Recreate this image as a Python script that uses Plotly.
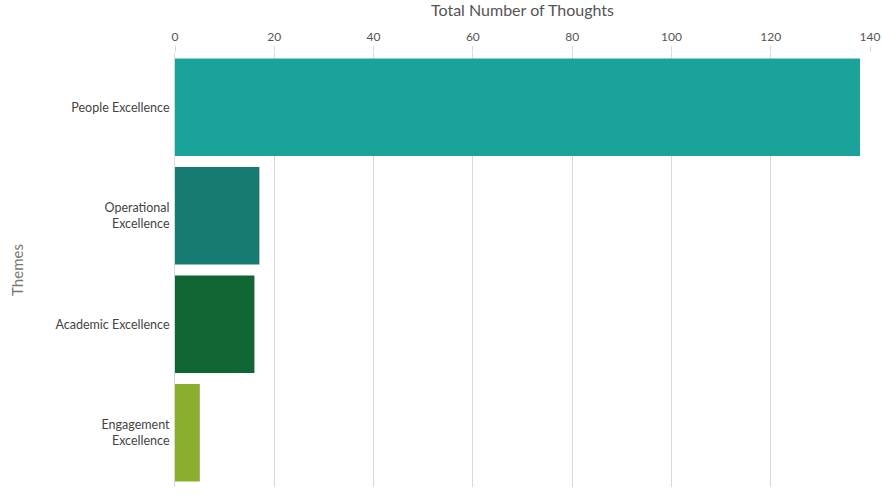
import plotly.graph_objects as go

themes = ["People Excellence", "Operational<br>Excellence", "Academic Excellence", "Engagement<br>Excellence"]
thoughts = [138, 17, 16, 5]
colors = ["#1aa39a", "#157b73", "#106632", "#8aaf2e"]

fig = go.Figure(go.Bar(
    x=thoughts, y=themes, orientation="h",
    marker=dict(color=colors, line=dict(width=0)),
    hoverinfo="x+y",
))

fig.update_layout(
    width=882, height=496,
    margin=dict(l=175, r=12, t=53, b=9),
    paper_bgcolor="white", plot_bgcolor="white",
    font=dict(family="Lato, sans-serif", color="#555"),
    bargap=0.1,
    showlegend=False,
    xaxis=dict(
        side="top", range=[0, 140], dtick=20,
        automargin=False,
        showgrid=True, gridcolor="#d9d9d9", gridwidth=1,
        zeroline=False,
        ticks="outside", ticklen=6, tickcolor="#d9d9d9",
        tickfont=dict(size=12, color="#555"),
        title=dict(text="Total Number of Thoughts", font=dict(size=16, color="#555"), standoff=12),
    ),
    yaxis=dict(
        autorange="reversed",
        automargin=False,
        showline=True, linecolor="#d9d9d9",
        tickfont=dict(size=12.5, color="#444"),
        ticklabelstandoff=2,
        title=dict(text="Themes", font=dict(size=15, color="#777"), standoff=28),
    ),
)

fig.write_html(
    "out.html",
    config={"displayModeBar": False},
    post_script="document.body.style.margin='0';document.body.style.overflow='hidden';",
)
